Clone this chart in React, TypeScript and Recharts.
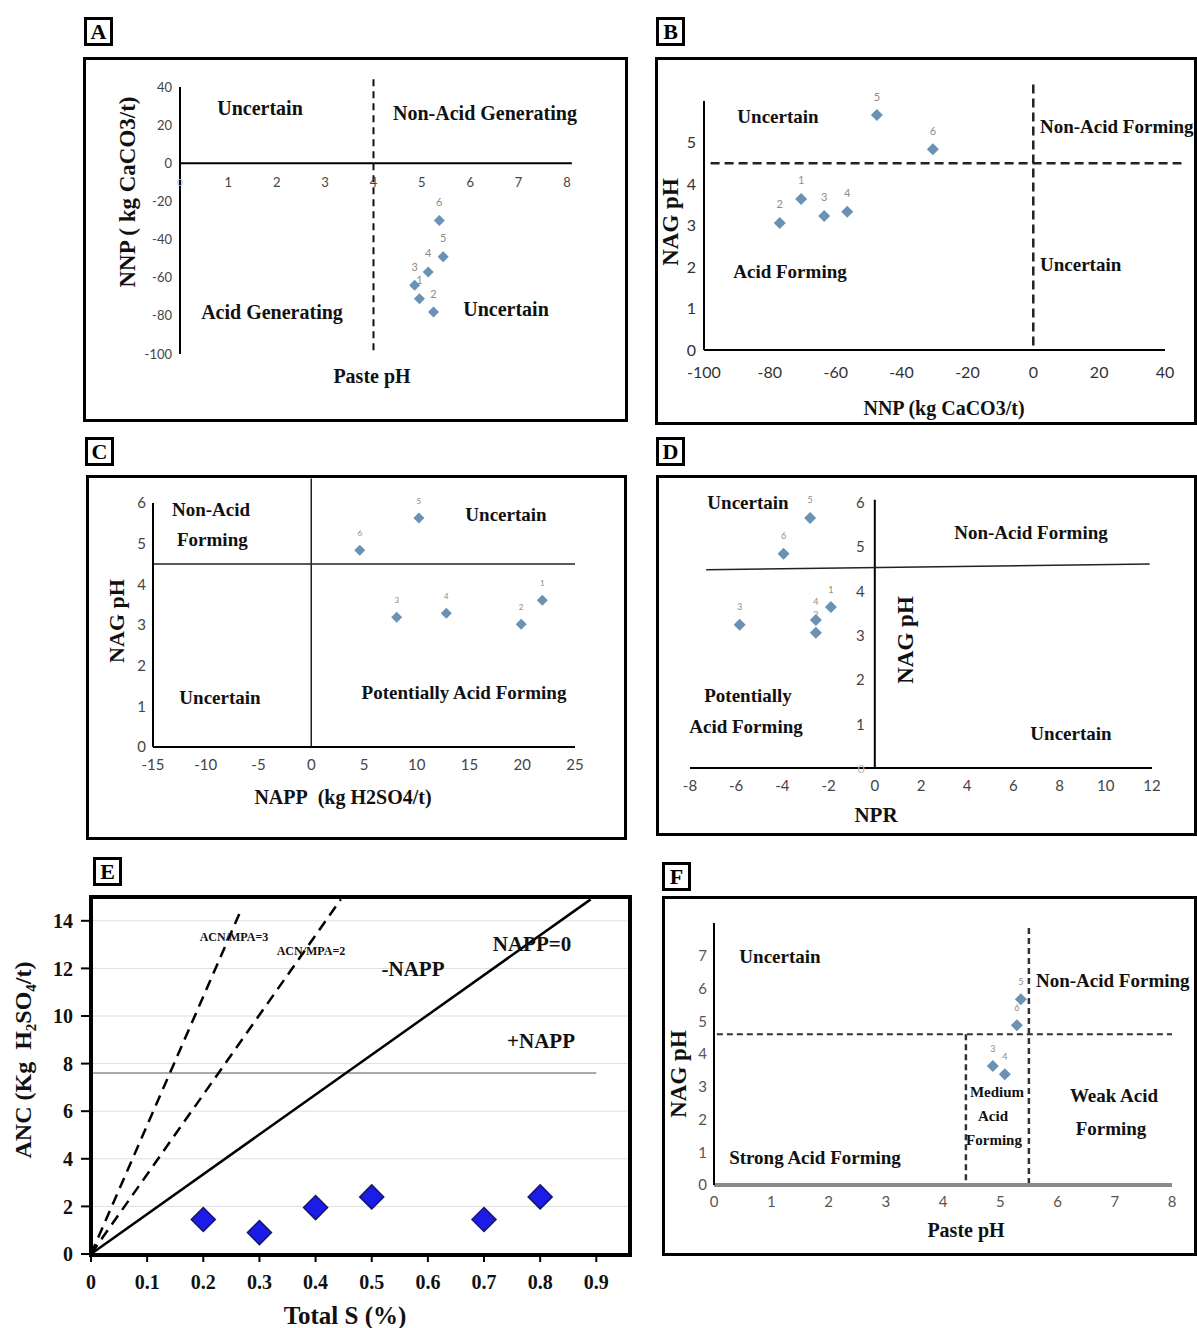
import React from "react";
import {
  CartesianGrid,
  LabelList,
  ReferenceLine,
  Scatter,
  ScatterChart,
  XAxis,
  YAxis,
} from "recharts";

const SERIF = '"Liberation Serif", "Times New Roman", serif';
const SANS = 'Lato, "Liberation Sans", Arial, sans-serif';
const PT = "#6b91b5";

// sample numbers shared by panels A-D
const sampleIds = ["1", "2", "3", "4", "5", "6"];

// A: paste pH vs NNP
const pastePhA = [4.95, 5.24, 4.85, 5.13, 5.44, 5.36];
const nnpA = [-71, -78, -64, -57, -49, -30];
const phTicks = [0, 1, 2, 3, 4, 5, 6, 7, 8];
const nnpTicks = [40, 20, 0, -20, -40, -60, -80, -100];

// B: NNP vs NAG pH
const nnpB = [-70.5, -77, -63.5, -56.5, -47.5, -30.5];
const nagPhB = [3.64, 3.06, 3.23, 3.33, 5.66, 4.84];
const nnpTicksB = [-100, -80, -60, -40, -20, 0, 20, 40];
const nagTicks5 = [0, 1, 2, 3, 4, 5];

// C: NAPP vs NAG pH
const nappC = [21.9, 19.9, 8.1, 12.8, 10.2, 4.6];
const nagPhC = [3.61, 3.02, 3.19, 3.29, 5.63, 4.84];
const nappTicks = [-15, -10, -5, 0, 5, 10, 15, 20, 25];
const nagTicks6 = [0, 1, 2, 3, 4, 5, 6];

// D: NPR vs NAG pH
const nprD = [-1.9, -2.55, -5.85, -2.55, -2.8, -3.95];
const nagPhD = [3.63, 3.05, 3.23, 3.34, 5.64, 4.83];
const nprTicks = [-8, -6, -4, -2, 0, 2, 4, 6, 8, 10, 12];

// E: total S vs ANC
const totalS = [0.2, 0.3, 0.4, 0.5, 0.7, 0.8];
const ancE = [1.45, 0.9, 1.95, 2.4, 1.45, 2.4];
const sTicks = [0, 0.1, 0.2, 0.3, 0.4, 0.5, 0.6, 0.7, 0.8, 0.9];
const ancTicks = [0, 2, 4, 6, 8, 10, 12, 14];
const nappZeroS = [0, 0.89];
const nappZeroAnc = [0, 14.9];
const ratio2S = [0, 0.445];
const ratio2Anc = [0, 14.9];
const ratio3S = [0, 0.268];
const ratio3Anc = [0, 14.5];

// F: paste pH vs NAG pH
const idsF = ["3", "4", "6", "5"];
const pastePhF = [4.87, 5.08, 5.29, 5.36];
const nagPhF = [3.63, 3.38, 4.88, 5.67];
const nagTicks7 = [0, 1, 2, 3, 4, 5, 6, 7];

const pts = (ids: string[], xs: number[], ys: number[]) =>
  ids.map((id, i) => ({ id, x: xs[i], y: ys[i] }));

const ptsA = pts(sampleIds, pastePhA, nnpA);
const ptsB = pts(sampleIds, nnpB, nagPhB);
const ptsC = pts(sampleIds, nappC, nagPhC);
const ptsD = pts(sampleIds, nprD, nagPhD);
const ptsE = totalS.map((s, i) => ({ x: s, y: ancE[i] }));
const ptsF = pts(idsF, pastePhF, nagPhF);
const line = (xs: number[], ys: number[]) => xs.map((x, i) => ({ x, y: ys[i] }));

const phLabelsA = phTicks.map((v) => ({ x: v, y: 0, label: String(v) }));
const nagLabelsD = nagTicks6.map((v) => ({ x: 0, y: v, label: String(v) }));

const diamond = (r: number, fill: string, stroke = "none") => (p: any) => (
  <path
    d={`M${p.cx},${p.cy - r}L${p.cx + r},${p.cy}L${p.cx},${p.cy + r}L${p.cx - r},${p.cy}Z`}
    fill={fill}
    stroke={stroke}
    strokeWidth={1.5}
  />
);

const tickText =
  (dx: number, dy: number, anchor: string, size: number, color: string) => (p: any) => (
    <text
      x={p.cx + dx}
      y={p.cy + dy}
      textAnchor={anchor}
      dominantBaseline="central"
      fontSize={p.payload.label === "0" ? size - 3 : size}
      fontFamily={SANS}
      fill={p.payload.label === "0" ? "#bbb" : color}
    >
      {p.payload.label}
    </text>
  );

const noShape = () => <g />;

function T({
  x,
  y,
  s = 19,
  r,
  left,
  children,
}: {
  x: number;
  y: number;
  s?: number;
  r?: number;
  left?: boolean;
  children: React.ReactNode;
}) {
  return (
    <div
      style={{
        position: "absolute",
        left: x,
        top: y,
        transform: `translate(${left ? "0" : "-50%"},-50%)${r ? ` rotate(${r}deg)` : ""}`,
        font: `bold ${s}px ${SERIF}`,
        whiteSpace: "nowrap",
        lineHeight: 1,
        color: "#111",
      }}
    >
      {children}
    </div>
  );
}

function Frame({ l, t, r, b, w = 3 }: { l: number; t: number; r: number; b: number; w?: number }) {
  return (
    <div
      style={{
        position: "absolute",
        left: l,
        top: t,
        width: r - l,
        height: b - t,
        border: `${w}px solid #000`,
        boxSizing: "border-box",
      }}
    />
  );
}

function Tag({ x, y, children }: { x: number; y: number; children: React.ReactNode }) {
  return (
    <div
      style={{
        position: "absolute",
        left: x,
        top: y,
        width: 29,
        height: 29,
        border: "3px solid #000",
        boxSizing: "border-box",
        font: `bold 22px ${SERIF}`,
        lineHeight: "24px",
        textAlign: "center",
      }}
    >
      {children}
    </div>
  );
}

const at = (l: number, t: number): React.CSSProperties => ({ position: "absolute", left: l, top: t });
const axisBlack = { stroke: "#000", strokeWidth: 2 };
const idLabel = (size: number) => (
  <LabelList dataKey="id" position="top" offset={10} fill="#8c8c8c" fontSize={size} fontFamily={SANS} />
);

export default function App() {
  return (
    <div
      style={{
        position: "absolute",
        left: 0,
        top: 0,
        width: 1197,
        height: 1328,
        overflow: "hidden",
        background: "#fff",
      }}
    >
      {/* A */}
      <div style={at(83, 57)}>
        <ScatterChart width={545} height={365} margin={{ top: 30, right: 61, bottom: 68, left: 57 }}>
          <XAxis type="number" dataKey="x" domain={[0, 8]} hide />
          <YAxis
            type="number"
            dataKey="y"
            domain={[-100, 40]}
            ticks={nnpTicks}
            interval={0}
            width={40}
            axisLine={axisBlack}
            tickLine={false}
            tickSize={4}
            tickMargin={4}
            tick={{ fontSize: 13, fill: "#444", fontFamily: SANS }}
          />
          <ReferenceLine segment={[{ x: 0, y: 0 }, { x: 8.1, y: 0 }]} stroke="#000" strokeWidth={2} ifOverflow="visible" />
          <ReferenceLine
            segment={[{ x: 4, y: 44 }, { x: 4, y: -98 }]}
            stroke="#111"
            strokeWidth={2}
            strokeDasharray="7 5"
            ifOverflow="visible"
          />
          <Scatter data={phLabelsA} shape={tickText(0, 19, "middle", 13, "#444")} isAnimationActive={false} />
          <Scatter data={ptsA} shape={diamond(5.5, PT)} isAnimationActive={false}>
            {idLabel(11)}
          </Scatter>
        </ScatterChart>
      </div>

      {/* B */}
      <div style={at(655, 57)}>
        <ScatterChart width={542} height={368} margin={{ top: 44, right: 32, bottom: 35, left: 19 }}>
          <XAxis
            type="number"
            dataKey="x"
            domain={[-100, 40]}
            ticks={nnpTicksB}
            interval={0}
            height={40}
            axisLine={axisBlack}
            tickLine={false}
            tickSize={6}
            tickMargin={11}
            tick={{ fontSize: 16, fill: "#333", fontFamily: SANS }}
          />
          <YAxis
            type="number"
            dataKey="y"
            domain={[0, 6]}
            ticks={nagTicks5}
            interval={0}
            width={30}
            axisLine={axisBlack}
            tickLine={false}
            tickSize={4}
            tickMargin={4}
            tick={{ fontSize: 16, fill: "#333", fontFamily: SANS }}
          />
          <ReferenceLine
            segment={[{ x: -98, y: 4.5 }, { x: 45, y: 4.5 }]}
            stroke="#222"
            strokeWidth={2.5}
            strokeDasharray="9 5"
            ifOverflow="visible"
          />
          <ReferenceLine
            segment={[{ x: 0, y: 6.4 }, { x: 0, y: 0 }]}
            stroke="#222"
            strokeWidth={2.5}
            strokeDasharray="9 5"
            ifOverflow="visible"
          />
          <Scatter data={ptsB} shape={diamond(6, PT)} isAnimationActive={false}>
            {idLabel(11)}
          </Scatter>
        </ScatterChart>
      </div>

      {/* C */}
      <div style={at(86, 475)}>
        <ScatterChart width={541} height={365} margin={{ top: 28, right: 52, bottom: 53, left: 37 }}>
          <XAxis
            type="number"
            dataKey="x"
            domain={[-15, 25]}
            ticks={nappTicks}
            interval={0}
            height={40}
            axisLine={axisBlack}
            tickLine={false}
            tickSize={4}
            tickMargin={8}
            tick={{ fontSize: 15, fill: "#444", fontFamily: SANS }}
          />
          <YAxis
            type="number"
            dataKey="y"
            domain={[0, 6]}
            ticks={nagTicks6}
            interval={0}
            width={30}
            axisLine={axisBlack}
            tickLine={false}
            tickSize={4}
            tickMargin={3}
            tick={{ fontSize: 15, fill: "#444", fontFamily: SANS }}
          />
          <ReferenceLine segment={[{ x: -15, y: 4.5 }, { x: 25, y: 4.5 }]} stroke="#222" strokeWidth={1.5} ifOverflow="visible" />
          <ReferenceLine segment={[{ x: 0, y: 0 }, { x: 0, y: 6.6 }]} stroke="#222" strokeWidth={1.5} ifOverflow="visible" />
          <Scatter data={ptsC} shape={diamond(5.5, PT)} isAnimationActive={false}>
            {idLabel(8)}
          </Scatter>
        </ScatterChart>
      </div>

      {/* D */}
      <div style={at(656, 475)}>
        <ScatterChart width={541} height={361} margin={{ top: 27, right: 45, bottom: 28, left: 34 }}>
          <XAxis
            type="number"
            dataKey="x"
            domain={[-8, 12]}
            ticks={nprTicks}
            interval={0}
            height={40}
            axisLine={axisBlack}
            tickLine={false}
            tickSize={4}
            tickMargin={8}
            tick={{ fontSize: 15, fill: "#444", fontFamily: SANS }}
          />
          <YAxis type="number" dataKey="y" domain={[0, 6]} hide />
          <ReferenceLine segment={[{ x: 0, y: 0 }, { x: 0, y: 6.05 }]} stroke="#000" strokeWidth={2} ifOverflow="visible" />
          <ReferenceLine
            segment={[{ x: -7.3, y: 4.47 }, { x: 11.9, y: 4.6 }]}
            stroke="#222"
            strokeWidth={1.5}
            ifOverflow="visible"
          />
          <Scatter data={nagLabelsD} shape={tickText(-10, 0, "end", 15, "#444")} isAnimationActive={false} />
          <Scatter data={ptsD} shape={diamond(6, PT)} isAnimationActive={false}>
            {idLabel(9)}
          </Scatter>
        </ScatterChart>
      </div>

      {/* E */}
      <div style={at(0, 890)}>
        <ScatterChart width={640} height={438} margin={{ top: 7, right: 10, bottom: 34, left: 41 }}>
          <CartesianGrid vertical={false} stroke="#dedede" />
          <XAxis
            type="number"
            dataKey="x"
            domain={[0, 0.96]}
            ticks={sTicks}
            interval={0}
            height={40}
            axisLine={false}
            tickLine={{ stroke: "#000", strokeWidth: 2 }}
            tickSize={8}
            tickMargin={13}
            tick={{ fontSize: 20, fill: "#111", fontFamily: SERIF, fontWeight: "bold" }}
          />
          <YAxis
            type="number"
            dataKey="y"
            domain={[0, 15]}
            ticks={ancTicks}
            interval={0}
            width={50}
            axisLine={false}
            tickLine={{ stroke: "#000", strokeWidth: 2 }}
            tickSize={10}
            tickMargin={8}
            tick={{ fontSize: 20, fill: "#111", fontFamily: SERIF, fontWeight: "bold" }}
          />
          <ReferenceLine segment={[{ x: 0, y: 7.6 }, { x: 0.9, y: 7.6 }]} stroke="#8c8c8c" strokeWidth={1.5} />
          <Scatter
            data={line(ratio3S, ratio3Anc)}
            shape={noShape}
            line={{ stroke: "#000", strokeWidth: 2.5, strokeDasharray: "11 7" }}
            isAnimationActive={false}
          />
          <Scatter
            data={line(ratio2S, ratio2Anc)}
            shape={noShape}
            line={{ stroke: "#000", strokeWidth: 2.5, strokeDasharray: "11 7" }}
            isAnimationActive={false}
          />
          <Scatter
            data={line(nappZeroS, nappZeroAnc)}
            shape={noShape}
            line={{ stroke: "#000", strokeWidth: 2.5 }}
            isAnimationActive={false}
          />
          <Scatter data={ptsE} shape={diamond(12, "#1c1ce8", "#14146e")} isAnimationActive={false} />
        </ScatterChart>
      </div>

      {/* F */}
      <div style={at(662, 896)}>
        <ScatterChart width={535} height={360} margin={{ top: 27, right: 25, bottom: 31, left: 22 }}>
          <XAxis
            type="number"
            dataKey="x"
            domain={[0, 8]}
            ticks={phTicks}
            interval={0}
            height={40}
            axisLine={{ stroke: "#8a8a8a", strokeWidth: 4 }}
            tickLine={false}
            tickSize={4}
            tickMargin={7}
            tick={{ fontSize: 15, fill: "#555", fontFamily: SANS }}
          />
          <YAxis
            type="number"
            dataKey="y"
            domain={[0, 8]}
            ticks={nagTicks7}
            interval={0}
            width={30}
            axisLine={axisBlack}
            tickLine={false}
            tickSize={4}
            tickMargin={3}
            tick={{ fontSize: 15, fill: "#555", fontFamily: SANS }}
          />
          <ReferenceLine
            segment={[{ x: 0.05, y: 4.6 }, { x: 8, y: 4.6 }]}
            stroke="#333"
            strokeWidth={2}
            strokeDasharray="6 4"
            ifOverflow="visible"
          />
          <ReferenceLine
            segment={[{ x: 5.5, y: 7.85 }, { x: 5.5, y: 0 }]}
            stroke="#333"
            strokeWidth={2.5}
            strokeDasharray="6 4"
            ifOverflow="visible"
          />
          <ReferenceLine
            segment={[{ x: 4.4, y: 4.6 }, { x: 4.4, y: 0 }]}
            stroke="#333"
            strokeWidth={2.5}
            strokeDasharray="6 4"
            ifOverflow="visible"
          />
          <Scatter data={ptsF} shape={diamond(6, PT)} isAnimationActive={false}>
            {idLabel(9)}
          </Scatter>
        </ScatterChart>
      </div>

      {/* frames and tags */}
      <Frame l={83} t={57} r={628} b={422} />
      <Frame l={655} t={57} r={1197} b={425} />
      <Frame l={86} t={475} r={627} b={840} />
      <Frame l={656} t={475} r={1197} b={836} />
      <Frame l={89} t={895} r={632} b={1257} w={4} />
      <Frame l={662} t={896} r={1197} b={1256} />
      <Tag x={84} y={17}>A</Tag>
      <Tag x={656} y={17}>B</Tag>
      <Tag x={85} y={437}>C</Tag>
      <Tag x={656} y={437}>D</Tag>
      <Tag x={93} y={857}>E</Tag>
      <Tag x={662} y={862}>F</Tag>

      {/* A notes */}
      <T x={260} y={108} s={20}>Uncertain</T>
      <T x={485} y={113} s={20}>Non-Acid Generating</T>
      <T x={272} y={312} s={20}>Acid Generating</T>
      <T x={506} y={309} s={20}>Uncertain</T>
      <T x={372} y={376} s={20}>Paste pH</T>
      <T x={127} y={192} s={23} r={-90}>NNP ( kg CaCO3/t)</T>

      {/* B notes */}
      <T x={778} y={116}>Uncertain</T>
      <T x={1040} y={126} left>Non-Acid Forming</T>
      <T x={790} y={271}>Acid Forming</T>
      <T x={1040} y={264} left>Uncertain</T>
      <T x={944} y={408} s={20}>NNP (kg CaCO3/t)</T>
      <T x={670} y={222} s={23} r={-90}>NAG pH</T>

      {/* C notes */}
      <T x={172} y={509} left>Non-Acid</T>
      <T x={177} y={539} left>Forming</T>
      <T x={506} y={514}>Uncertain</T>
      <T x={220} y={697}>Uncertain</T>
      <T x={464} y={692}>Potentially Acid Forming</T>
      <T x={343} y={797} s={20}>NAPP&nbsp; (kg H2SO4/t)</T>
      <T x={117} y={621} s={22} r={-90}>NAG pH</T>

      {/* D notes */}
      <T x={748} y={502}>Uncertain</T>
      <T x={1031} y={532}>Non-Acid Forming</T>
      <T x={748} y={695}>Potentially</T>
      <T x={746} y={726}>Acid Forming</T>
      <T x={1071} y={733}>Uncertain</T>
      <T x={876} y={815} s={21}>NPR</T>
      <T x={905} y={640} s={23} r={-90}>NAG pH</T>

      {/* E notes */}
      <T x={234} y={937} s={12}>ACN/MPA=3</T>
      <T x={311} y={951} s={12}>ACN/MPA=2</T>
      <T x={413} y={969} s={21}>-NAPP</T>
      <T x={532} y={944} s={21}>NAPP=0</T>
      <T x={541} y={1041} s={21}>+NAPP</T>
      <T x={345} y={1315} s={25}>Total S (%)</T>
      <T x={25} y={1060} s={24} r={-90}>
        ANC (Kg&nbsp; H<sub style={{ fontSize: 15 }}>2</sub>SO<sub style={{ fontSize: 15 }}>4</sub>/t)
      </T>

      {/* F notes */}
      <T x={780} y={956}>Uncertain</T>
      <T x={1036} y={980} left>Non-Acid Forming</T>
      <T x={1114} y={1095}>Weak Acid</T>
      <T x={1111} y={1128}>Forming</T>
      <T x={997} y={1092} s={15}>Medium</T>
      <T x={993} y={1116} s={15}>Acid</T>
      <T x={994} y={1140} s={15}>Forming</T>
      <T x={815} y={1157}>Strong Acid Forming</T>
      <T x={966} y={1230} s={20}>Paste pH</T>
      <T x={678} y={1074} s={23} r={-90}>NAG pH</T>
    </div>
  );
}
